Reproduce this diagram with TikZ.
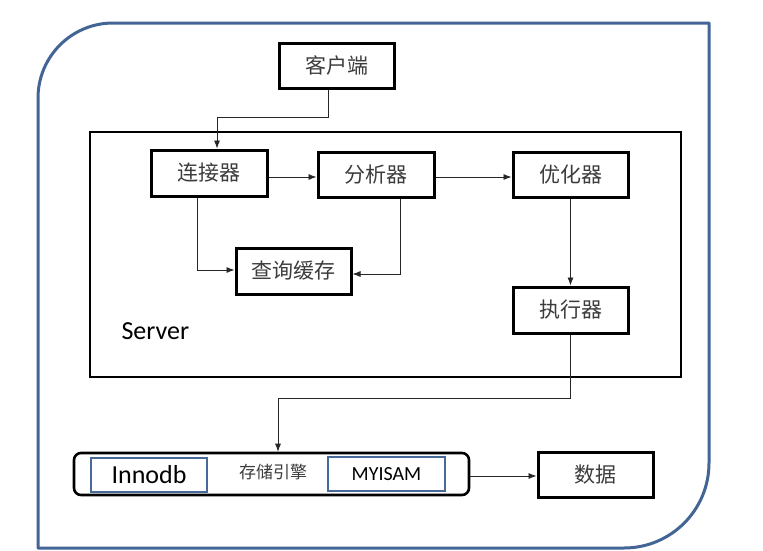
\documentclass[tikz,border=0pt]{standalone}
\usepackage{fontspec}
\setmainfont{Carlito}
\newfontfamily\cjk{Noto Sans CJK SC}
\usetikzlibrary{arrows.meta,calc}
\definecolor{framebl}{RGB}{66,101,150}
\definecolor{boxbl}{RGB}{72,106,155}
\definecolor{txtgray}{RGB}{60,60,60}
\begin{document}
\begin{tikzpicture}[x=1pt,y=-1pt,
  blk/.style={draw=black,line width=3pt,fill=white,minimum width=115pt,minimum height=45pt,inner sep=0pt,
    font=\cjk\fontsize{21}{24}\selectfont,text=txtgray},
  eng/.style={draw=boxbl,line width=2.4pt,minimum width=116pt,minimum height=34pt,inner sep=0pt},
  arr/.style={draw=black!85,line width=0.8pt,-{Latex[length=8pt,width=6pt]}},
  ln/.style={draw=black!85,line width=0.8pt}]
\useasboundingbox (0,0) rectangle (763,550);
\fill[white] (0,0) rectangle (763,550);
% outer frame
\draw[framebl,line width=3pt,line join=round]
  (38,548) -- (38,98) .. controls (38,56.6) and (71.6,23) .. (113,23)
  -- (709,23) -- (709,463) .. controls (709,510) and (671,548) .. (624,548) -- cycle;
% server box
\node[draw=black,line width=2.8pt,minimum width=591pt,minimum height=245pt,inner sep=0pt] (server) at (385.5,254.5) {};
\node[font=\fontsize{26}{30}\selectfont,anchor=base west] (slabel) at (118,339) {Server};
% nodes
\node[blk] (client) at (336.5,65.5) {客户端};
\node[blk,minimum width=116pt,minimum height=46pt] (conn) at (209,173) {连接器};
\node[blk,minimum width=116pt] (anal) at (376,174.5) {分析器};
\node[blk,minimum height=46pt] (cache) at (293.5,271) {查询缓存};
\node[blk] (opt) at (570.5,174.5) {优化器};
\node[blk,minimum height=46pt] (exec) at (570.5,310) {执行器};
\node[draw=black,line width=2.6pt,rounded corners=7pt,minimum width=395pt,minimum height=42pt,inner sep=0pt] (storage) at (271.5,474) {};
\node[eng,font=\fontsize{26}{30}\selectfont] (innodb) at (149,475) {Innodb};
\node[eng,minimum width=117pt,font=\fontsize{20}{24}\selectfont] (myisam) at (386.5,474) {MYISAM};
\node[font=\cjk\fontsize{17}{20}\selectfont,text=txtgray] (engtxt) at (273,472) {存储引擎};
\node[blk] (data) at (595.5,474.5) {数据};
% connectors
\draw[arr] ([xshift=-8.5pt]client.south) -- ++(0,28) -| ([xshift=8pt]conn.north);
\draw[arr] ([yshift=-4pt]conn.east) -- ([yshift=-4pt]conn.east -| anal.west);
\draw[arr] ([yshift=-2.5pt]anal.east) -- ([yshift=-2.5pt]anal.east -| opt.west);
\draw[arr] ([xshift=-12pt]conn.south) |- ([yshift=1pt]cache.west);
\draw[arr] ([xshift=24pt]anal.south) |- ([yshift=-3pt]cache.east);
\draw[arr] (opt.south) -- (exec.north);
\draw[arr] (exec.south) -- ++(0,64) -| ([xshift=6.5pt]storage.north);
\draw[arr] ([yshift=-2pt]storage.east) -- ([yshift=-2pt]storage.east -| data.west);
\end{tikzpicture}
\end{document}
